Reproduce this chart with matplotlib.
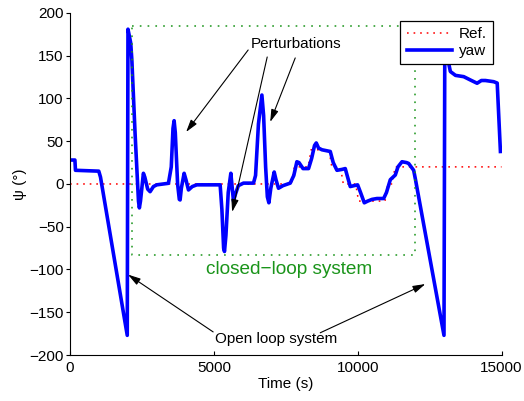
import matplotlib
matplotlib.use("Agg")
import matplotlib.pyplot as plt

plt.rcParams['font.family'] = ['Liberation Sans', 'DejaVu Sans']

# yaw angle (time in s, angle in deg)
yaw_t = [0, 170, 190, 1000, 1060, 1990, 2015, 2110, 2150, 2262, 2380, 2411, 2450,
         2551, 2600, 2700, 2784, 2900, 3016, 3422, 3520, 3580, 3619, 3660, 3740,
         3800, 3827, 3870, 3967, 4030, 4118, 4250, 4408, 5219, 5280, 5340, 5370,
         5420, 5500, 5591, 5640, 5683, 5750, 5850, 6030, 6378, 6450, 6550, 6670,
         6730, 6800, 6860, 6913, 6980, 7098, 7160, 7247, 7400, 7655, 7780, 7886,
         7960, 8100, 8292, 8400, 8500, 8560, 8640, 8757, 9047, 9150, 9279, 9450,
         9568, 9650, 9742, 9998, 10100, 10230, 10350, 10500, 10671, 10903, 11000,
         11134, 11308, 11400, 11540, 11700, 11771, 11946, 12010, 13000, 13030,
         13100, 13163, 13222, 13400, 13686, 13918, 14150, 14300, 14440, 14730,
         14850, 14962]
yaw_v = [28, 28, 16, 15, 8, -177, 181, 165, 145, 59, -20, -28, -20,
         12.5, 8, -6, -9, -3, -1, 0.8, 20, 65, 74, 60, 0,
         -18, -18.7, -5, 12.5, 5, -7, -3, -1, -1, -30, -75, -79,
         -60, -10, 12.5, -5, -20, -12, -2, 1, 1, 10, 70, 104,
         80, 20, -15, -22, -5, 14, 5, -5, -2, 1, 10, 26,
         25, 18, 18, 30, 45, 48, 42, 40, 38, 25, 16, 17,
         18, 8, -3, -1, -10, -22, -20, -18, -17, -17, -10,
         5, 10.5, 20, 26, 25, 24, 16, 5, -177, 180,
         150, 141, 131.5, 127, 125.5, 121.6, 117.8, 121, 121, 119.6,
         118, 38]

# reference signal
ref_t = [0, 7700, 7800, 8280, 8380, 9000, 9100, 9400, 9500, 9930, 10030,
         10950, 11050, 11200, 11300, 15000]
ref_v = [0, 0, 20, 20, 40, 40, 20, 20, 0, 0, -20, -20, 0, 0, 20, 20]

# closed-loop region box
box_x = [2150, 12000]
box_y = [-83, 185]

# annotation arrows: (tail, head) in data units
pert_arrows = [((6193, 156.7), (4036, 60.8)),
               ((6855, 148.5), (5637, -32.7)),
               ((7829, 147.4), (6959, 72.5))]
open_arrows = [((4976, -173), (2018, -106)),
               ((8699, -174), (12352, -117))]

green = (0.1, 0.58, 0.1)

fig = plt.figure(figsize=(5.24, 4.01), dpi=100)
ax = fig.add_axes([0.1336, 0.1147, 0.8235, 0.853])

ax.plot(ref_t, ref_v, color='red', lw=1.1, linestyle=(0, (1.1, 3.2)), label='Ref.')
ax.plot(yaw_t, yaw_v, color='blue', lw=2.6, solid_joinstyle='round', label='yaw')
ax.plot([box_x[0], box_x[1], box_x[1], box_x[0], box_x[0]],
        [box_y[1], box_y[1], box_y[0], box_y[0], box_y[1]],
        color=green, lw=1.1, linestyle=(0, (1.1, 4.0)))

aprops = dict(arrowstyle='-|>,head_length=0.75,head_width=0.22', color='black',
              lw=0.8, shrinkA=0, shrinkB=0)
for tail, head in pert_arrows + open_arrows:
    ax.annotate('', xy=head, xytext=tail, arrowprops=aprops)

ax.text(7864, 163.7, 'Perturbations', fontsize=11, ha='center', va='center')
ax.text(7623, -100, 'closed\u2212loop system', fontsize=13.7, color=green,
        ha='center', va='center')
ax.text(7170, -181, 'Open loop system', fontsize=11, ha='center', va='center')

ax.set_xlim(0, 15000)
ax.set_ylim(-200, 200)
ax.set_xticks([0, 5000, 10000, 15000])
ax.set_yticks(range(-200, 201, 50))
ax.spines['top'].set_visible(False)
ax.spines['right'].set_visible(False)
ax.tick_params(axis='x', direction='in', length=3, width=0.8, labelsize=11, pad=4)
ax.tick_params(axis='y', direction='out', length=3, width=0.8, labelsize=11, pad=1.5)
ax.set_xlabel('Time (s)', fontsize=11, labelpad=2)
ax.set_ylabel('\u03c8 (\u00b0)', fontsize=11, labelpad=2)

leg = ax.legend(loc='upper right', bbox_to_anchor=(0.981, 0.977), borderaxespad=0,
                fontsize=11, handlelength=3.0, handletextpad=0.45,
                labelspacing=0.2, borderpad=0.4, fancybox=False, framealpha=1)
leg.get_frame().set_edgecolor('black')
leg.get_frame().set_linewidth(0.9)

plt.savefig('out.png', dpi=100)
